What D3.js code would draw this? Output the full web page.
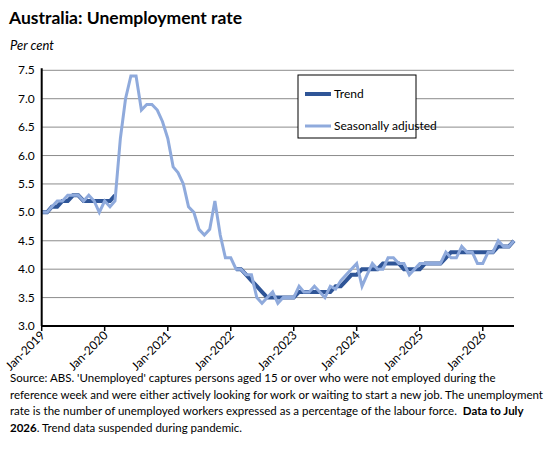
<!DOCTYPE html><html><head><meta charset="utf-8">
<script src="https://cdn.jsdelivr.net/npm/d3@7"></script>
<style>body{margin:0;background:#fff;font-family:Lato,"Liberation Sans",sans-serif}</style></head><body>
<svg id="c" width="548" height="454"></svg>
<script>
const startYear=2019, startMonth=0;
const seasonal=[5.0,5.0,5.1,5.2,5.2,5.3,5.3,5.3,5.2,5.3,5.2,5.0,
5.2,5.1,5.2,6.3,7.0,7.4,7.4,6.8,6.9,6.9,6.8,6.6,
6.3,5.8,5.7,5.5,5.1,5.0,4.7,4.6,4.7,5.2,4.6,4.2,
4.2,4.0,4.0,3.9,3.9,3.5,3.4,3.5,3.6,3.4,3.5,3.5,
3.5,3.7,3.6,3.6,3.7,3.6,3.5,3.7,3.65,3.8,3.9,4.0,
4.1,3.7,3.9,4.1,4.0,4.0,4.2,4.2,4.1,4.1,3.9,4.0,
4.1,4.1,4.1,4.1,4.1,4.3,4.2,4.2,4.4,4.3,4.3,4.1,
4.1,4.3,4.3,4.5,4.4,4.4,4.5];
const trend=[5.0,5.0,5.1,5.1,5.2,5.2,5.3,5.3,5.2,5.2,5.2,5.2,
5.2,5.2,5.3,null,null,null,null,null,null,null,null,null,
null,null,null,null,null,null,null,null,null,null,null,null,
null,4.0,4.0,3.9,3.8,3.7,3.6,3.5,3.5,3.5,3.5,3.5,
3.5,3.6,3.6,3.6,3.6,3.6,3.6,3.6,3.7,3.7,3.8,3.9,
3.9,4.0,4.0,4.0,4.0,4.1,4.1,4.1,4.1,4.0,4.0,4.0,
4.0,4.1,4.1,4.1,4.1,4.2,4.3,4.3,4.3,4.3,4.3,4.3,
4.3,4.3,4.3,4.4,4.4,4.4,4.5];
const yTicks=[3.0,3.5,4.0,4.5,5.0,5.5,6.0,6.5,7.0,7.5];
const xTickLabels=["Jan-2019","Jan-2020","Jan-2021","Jan-2022","Jan-2023","Jan-2024","Jan-2025","Jan-2026"];
const seriesNames=["Trend","Seasonally adjusted"];
const colors=["#2F5597","#8FAADC"];

const svg=d3.select("#c").attr("font-family","Lato, Liberation Sans, sans-serif");
const L=41.7,R=514,T=70.3,B=326;
const dates=seasonal.map((_,i)=>new Date(startYear,startMonth+i,1));
const x=d3.scaleTime().domain([dates[0],dates[dates.length-1]]).range([L,R]);
const y=d3.scaleLinear().domain([3,7.5]).range([B,T]);

svg.append("text").attr("x",9).attr("y",24).attr("font-size",17.5).attr("font-weight","bold").attr("fill","#000").text("Australia: Unemployment rate");
svg.append("text").attr("x",10).attr("y",50).attr("font-size",13).attr("font-style","italic").text("Per cent");

svg.append("g").selectAll("line").data(yTicks.slice(1)).join("line")
 .attr("x1",L).attr("x2",R).attr("y1",d=>y(d)).attr("y2",d=>y(d)).attr("stroke","#8c8c8c").attr("stroke-width",1);
svg.append("g").selectAll("text").data(yTicks).join("text")
 .attr("x",L-7).attr("y",d=>y(d)+4).attr("text-anchor","end").attr("font-size",12).text(d=>d.toFixed(1));

const line=d3.line().defined(d=>d[1]!=null).x(d=>x(d[0])).y(d=>y(d[1]));
svg.append("path").datum(dates.map((d,i)=>[d,trend[i]])).attr("d",line).attr("fill","none").attr("stroke",colors[0]).attr("stroke-width",4);
svg.append("path").datum(dates.map((d,i)=>[d,seasonal[i]])).attr("d",line).attr("fill","none").attr("stroke",colors[1]).attr("stroke-width",3);

svg.append("line").attr("x1",L).attr("x2",L).attr("y1",T-2).attr("y2",B).attr("stroke","#000").attr("stroke-width",2);
svg.append("line").attr("x1",L).attr("x2",R).attr("y1",B).attr("y2",B).attr("stroke","#000").attr("stroke-width",2);
const tickDates=xTickLabels.map((_,i)=>new Date(startYear+i,0,1));
svg.append("g").selectAll("line").data(tickDates).join("line")
 .attr("x1",d=>x(d)).attr("x2",d=>x(d)).attr("y1",B).attr("y2",B+5).attr("stroke","#000").attr("stroke-width",1.5);
svg.append("g").selectAll("text").data(tickDates).join("text")
 .attr("transform",d=>`translate(${x(d)+4},${B+10}) rotate(-45)`).attr("text-anchor","end").attr("font-size",12)
 .text((d,i)=>xTickLabels[i]);

const lg=svg.append("g");
lg.append("rect").attr("x",298).attr("y",75).attr("width",118).attr("height",63).attr("fill","#fff").attr("stroke","#000");
seriesNames.forEach((n,i)=>{
 const yy=i?126:94;
 lg.append("line").attr("x1",305).attr("x2",331).attr("y1",yy).attr("y2",yy).attr("stroke",colors[i]).attr("stroke-width",i?3:4);
 lg.append("text").attr("x",334).attr("y",yy+4).attr("font-size",12).text(n);
});

const footLines=[
 [["Source: ABS. 'Unemployed' captures persons aged 15 or over who were not employed during the",false]],
 [["reference week and were either actively looking for work or waiting to start a new job. The unemployment",false]],
 [["rate is the number of unemployed workers expressed as a percentage of the labour force.  ",false],["Data to July",true]],
 [["2026",true],[". Trend data suspended during pandemic.",false]]];
footLines.forEach((parts,i)=>{
 const t=svg.append("text").attr("x",10).attr("y",382+i*16.5).attr("font-size",11.5).attr("fill","#000").attr("xml:space","preserve");
 parts.forEach(([s,b])=>t.append("tspan").attr("font-weight",b?"bold":null).text(s));
});
</script></body></html>
